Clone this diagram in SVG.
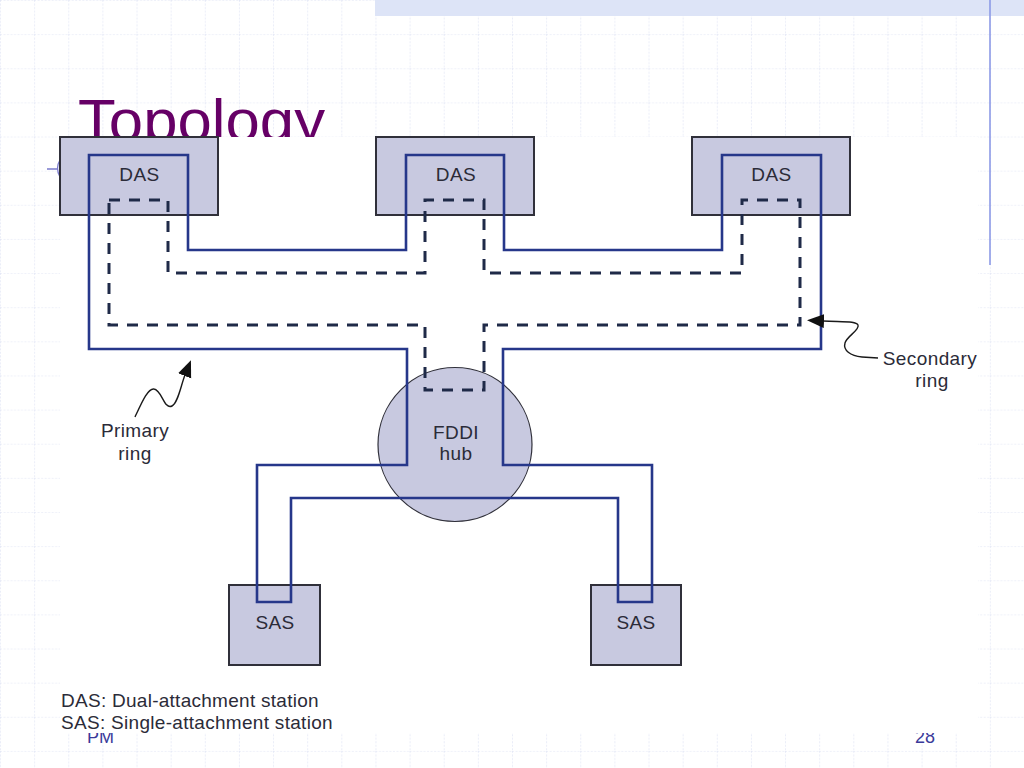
<svg xmlns="http://www.w3.org/2000/svg" width="1024" height="768" viewBox="0 0 1024 768">
  <style>
    .lbl { font-family: "Liberation Sans", Arial, sans-serif; font-size: 19px; fill: #2b2b38; letter-spacing: 0.4px; }
    .mid { text-anchor: middle; }
    .box { fill: #c8c9e0; stroke: #30303a; stroke-width: 2; }
    .primary { fill: none; stroke: #26378a; stroke-width: 2.6; stroke-linejoin: miter; }
    .secondary { fill: none; stroke: #1f2a48; stroke-width: 3; stroke-dasharray: 11 9; stroke-linejoin: miter; }
    .pointer { fill: none; stroke: #1a1a1a; stroke-width: 1.4; }
    .foot { font-family: "Liberation Sans", Arial, sans-serif; font-size: 18px; fill: #3a3a9a; }
  </style>
  <defs>
    <pattern id="grid" width="34.133" height="34.133" patternUnits="userSpaceOnUse">
      <path d="M0,0 H34.133 M0,0 V34.133" fill="none" stroke="#dde2f3" stroke-width="1.2" stroke-dasharray="2 1.5"/>
    </pattern>
    <marker id="arrowhead" markerUnits="userSpaceOnUse" markerWidth="19" markerHeight="15" refX="1" refY="7" orient="auto">
      <path d="M0,0 L17,7 L0,14 z" fill="#111"/>
    </marker>
  </defs>

  <!-- slide background -->
  <rect x="0" y="0" width="1024" height="768" fill="#ffffff"/>
  <rect x="0" y="0" width="1024" height="768" fill="url(#grid)"/>
  <rect x="375" y="0" width="649" height="16" fill="#dde4f7"/>
  <line x1="990" y1="0" x2="990" y2="265" stroke="#8c9ae6" stroke-width="1.6"/>
  <text x="78" y="141" font-family="Liberation Sans, Arial, sans-serif" font-size="60" fill="#660066" textLength="247" lengthAdjust="spacingAndGlyphs">Topology</text>
  <text x="87" y="743" class="foot">PM</text>
  <text x="915" y="743" class="foot">28</text>
  <path d="M47,169 H58 M60,160 Q55,168 60,177" fill="none" stroke="#7a7acc" stroke-width="1.3"/>

  <!-- picture area -->
  <rect x="60" y="137" width="918" height="596" fill="#ffffff"/>

  <!-- nodes -->
  <g id="das-left">
    <rect class="box" x="60" y="137" width="158" height="78"/>
    <text class="lbl mid" x="139.5" y="181">DAS</text>
  </g>
  <g id="das-middle">
    <rect class="box" x="376" y="137" width="158" height="78"/>
    <text class="lbl mid" x="456" y="181">DAS</text>
  </g>
  <g id="das-right">
    <rect class="box" x="692" y="137" width="158" height="78"/>
    <text class="lbl mid" x="771.5" y="181">DAS</text>
  </g>
  <g id="fddi-hub">
    <circle cx="455" cy="444.5" r="77" fill="#c8c9e0" stroke="#30303a" stroke-width="1.2"/>
  </g>
  <g id="sas-left">
    <rect class="box" x="229" y="585" width="91" height="80"/>
  </g>
  <g id="sas-right">
    <rect class="box" x="591" y="585" width="90" height="80"/>
  </g>

  <!-- connectors -->
  <g id="connectors">
    <path id="primary-ring" class="primary" d="M89,155 H188 V250 H406 V155 H504 V250 H722 V155 H821 V349 H503 V465 H652 V602 H618 V498 H291 V602 H257 V465 H407 V349 H89 Z"/>
    <path id="secondary-ring" class="secondary" d="M109,200 H168 V273 H425 V200 H484 V273 H742 V200 H800 V325 H484 V390 H425 V325 H109 Z"/>
    <path id="primary-pointer" class="pointer" marker-end="url(#arrowhead)" d="M135,417 C142,402 148,388 154,389 C162,390 164,410 172,406 C178,403 181,385 185,375"/>
    <path id="secondary-pointer" class="pointer" marker-end="url(#arrowhead)" d="M878,358 L862,357 C850,356 843,350 845,343 C847,336 860,330 858,325 C856,321 845,322 823,321"/>
  </g>

  <!-- node labels on top of lines -->
  <g id="hub-label">
    <text class="lbl mid" x="456" y="439">FDDI</text>
    <text class="lbl mid" x="456" y="460">hub</text>
  </g>
  <g id="sas-labels">
    <text class="lbl mid" x="275" y="629">SAS</text>
    <text class="lbl mid" x="636" y="629">SAS</text>
  </g>
  <g id="ring-labels">
    <text class="lbl mid" x="135" y="437">Primary</text>
    <text class="lbl mid" x="135" y="460">ring</text>
    <text class="lbl mid" x="930" y="365">Secondary</text>
    <text class="lbl mid" x="932" y="387">ring</text>
  </g>
  <g id="legend">
    <text class="lbl" x="61" y="707" textLength="258" lengthAdjust="spacing">DAS: Dual-attachment station</text>
    <text class="lbl" x="61" y="729" textLength="272" lengthAdjust="spacing">SAS: Single-attachment station</text>
  </g>
</svg>
